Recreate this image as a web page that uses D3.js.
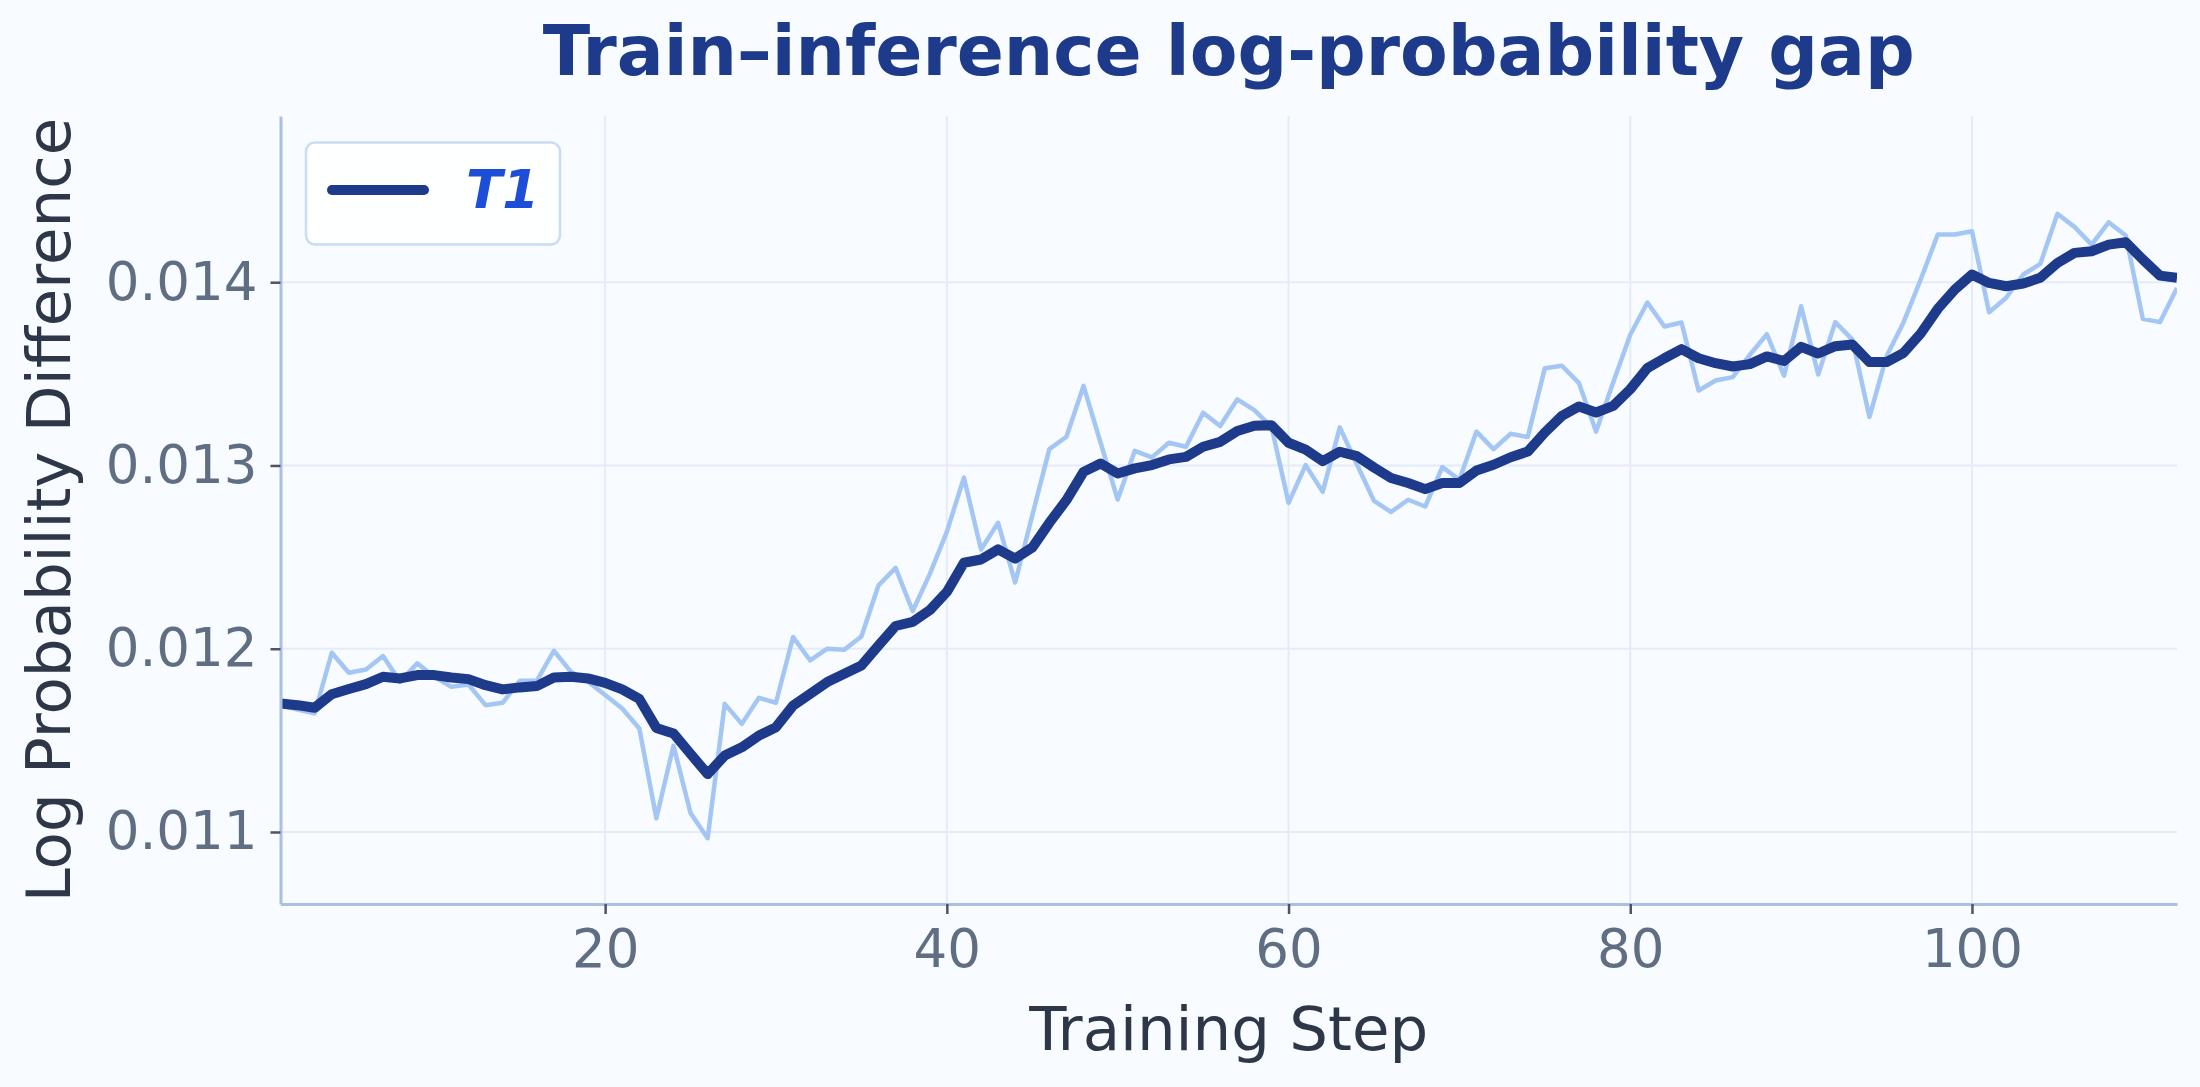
<!DOCTYPE html>
<html>
<head>
<meta charset="utf-8">
<script src="https://cdn.jsdelivr.net/npm/d3@7"></script>
<style>
  body { margin: 0; background: #f8fbff; }
  svg { display: block; font-family: "DejaVu Sans", sans-serif; }
</style>
</head>
<body>
<script>
// values
const steps = d3.range(1, 113);

const rawGap = [
  0.011692, 0.011668, 0.011647, 0.011978, 0.011869, 0.011887, 0.011960, 0.011820, 0.011920, 0.011847,
  0.011792, 0.011805, 0.011692, 0.011705, 0.011825, 0.011825, 0.011989, 0.011874, 0.011820, 0.011747,
  0.011674, 0.011565, 0.011075, 0.011471, 0.011103, 0.010966, 0.011699, 0.011590, 0.011732, 0.011705,
  0.012064, 0.011936, 0.012000, 0.011995, 0.012067, 0.012346, 0.012441, 0.012206, 0.012407, 0.012638,
  0.012934, 0.012541, 0.012687, 0.012361, 0.012727, 0.013089, 0.013157, 0.013434, 0.013124, 0.012814,
  0.013080, 0.013044, 0.013124, 0.013102, 0.013288, 0.013215, 0.013361, 0.013302, 0.013211, 0.012796,
  0.013002, 0.012856, 0.013208, 0.013007, 0.012807, 0.012746, 0.012813, 0.012776, 0.012991, 0.012922,
  0.013185, 0.013089, 0.013173, 0.013155, 0.013531, 0.013544, 0.013449, 0.013185, 0.013453, 0.013713,
  0.013889, 0.013758, 0.013780, 0.013409, 0.013464, 0.013482, 0.013604, 0.013716, 0.013490, 0.013869,
  0.013496, 0.013782, 0.013687, 0.013265, 0.013596, 0.013782, 0.014015, 0.014260, 0.014260, 0.014278,
  0.013836, 0.013915, 0.014042, 0.014100, 0.014373, 0.014302, 0.014205, 0.014327, 0.014255, 0.013800,
  0.013782, 0.013969
];

const smoothGap = [
  0.011701, 0.011692, 0.011678, 0.011752, 0.011780, 0.011807, 0.011847, 0.011838, 0.011856, 0.011856,
  0.011843, 0.011834, 0.011801, 0.011778, 0.011789, 0.011796, 0.011843, 0.011847, 0.011838, 0.011814,
  0.011778, 0.011726, 0.011568, 0.011538, 0.011426, 0.011316, 0.011417, 0.011462, 0.011526, 0.011572,
  0.011690, 0.011754, 0.011818, 0.011863, 0.011909, 0.012018, 0.012124, 0.012146, 0.012210, 0.012310,
  0.012469, 0.012487, 0.012542, 0.012492, 0.012552, 0.012687, 0.012811, 0.012965, 0.013011, 0.012956,
  0.012984, 0.013002, 0.013033, 0.013047, 0.013102, 0.013129, 0.013188, 0.013217, 0.013220, 0.013124,
  0.013087, 0.013024, 0.013075, 0.013051, 0.012989, 0.012932, 0.012904, 0.012871, 0.012904, 0.012904,
  0.012973, 0.013004, 0.013045, 0.013076, 0.013180, 0.013271, 0.013322, 0.013289, 0.013325, 0.013416,
  0.013531, 0.013585, 0.013635, 0.013585, 0.013558, 0.013540, 0.013553, 0.013595, 0.013570, 0.013647,
  0.013611, 0.013651, 0.013660, 0.013564, 0.013564, 0.013615, 0.013720, 0.013855, 0.013960, 0.014042,
  0.013996, 0.013978, 0.013993, 0.014024, 0.014105, 0.014160, 0.014169, 0.014205, 0.014218, 0.014124,
  0.014036, 0.014024
];

const xTicks = [20, 40, 60, 80, 100];
const yTicks = [0.011, 0.012, 0.013, 0.014];
const seriesName = "T1";

const W = 2200, H = 1087;
const plotLeft = 280.5, plotRight = 2177, plotTop = 116, plotBottom = 904;

const svg = d3.select('body').append('svg')
  .attr('width', W)
  .attr('height', H);

svg.append('rect').attr('width', W).attr('height', H).attr('fill', '#f8fbff');

const x = d3.scaleLinear().domain([1, 112]).range([plotLeft, plotRight]);
const y = d3.scaleLinear().domain([0.010607, 0.014907]).range([plotBottom, plotTop]);

// grid
svg.append('g').selectAll('line').data(xTicks).join('line')
  .attr('x1', d => x(d)).attr('x2', d => x(d))
  .attr('y1', plotTop).attr('y2', plotBottom)
  .attr('stroke', '#e3ecf8').attr('stroke-width', 2);
svg.append('g').selectAll('line').data(yTicks).join('line')
  .attr('x1', plotLeft).attr('x2', plotRight)
  .attr('y1', d => y(d)).attr('y2', d => y(d))
  .attr('stroke', '#e3ecf8').attr('stroke-width', 2);

svg.append('clipPath').attr('id', 'plot')
  .append('rect').attr('x', plotLeft).attr('y', plotTop)
  .attr('width', plotRight - plotLeft).attr('height', plotBottom - plotTop);

const line = d3.line().x(d => x(d[0])).y(d => y(d[1]));

svg.append('path')
  .datum(steps.map((s, i) => [s, rawGap[i]]))
  .attr('d', line)
  .attr('clip-path', 'url(#plot)')
  .attr('fill', 'none')
  .attr('stroke', '#a4c6f4')
  .attr('stroke-width', 4.5)
  .attr('stroke-linejoin', 'round');

svg.append('path')
  .datum(steps.map((s, i) => [s, smoothGap[i]]))
  .attr('d', line)
  .attr('clip-path', 'url(#plot)')
  .attr('fill', 'none')
  .attr('stroke', '#1e3a8a')
  .attr('stroke-width', 10)
  .attr('stroke-linejoin', 'round');

// axes
const xAxis = svg.append('g')
  .attr('transform', 'translate(0,' + plotBottom + ')')
  .call(d3.axisBottom(x).tickValues(xTicks).tickSize(10).tickSizeOuter(0).tickPadding(15));
const yAxis = svg.append('g')
  .attr('transform', 'translate(' + plotLeft + ',0)')
  .call(d3.axisLeft(y).tickValues(yTicks).tickFormat(d3.format('.3f')).tickSize(10).tickSizeOuter(0).tickPadding(13));

[xAxis, yAxis].forEach(g => {
  g.attr('font-family', '"DejaVu Sans", sans-serif').attr('font-size', 53);
  g.select('.domain').attr('stroke', '#a9c0e2').attr('stroke-width', 3);
  g.selectAll('.tick line').attr('stroke', '#4a5568').attr('stroke-width', 2.5);
  g.selectAll('.tick text').attr('fill', '#5f6e82');
});

// title and labels
svg.append('text')
  .attr('x', (plotLeft + plotRight) / 2).attr('y', 75)
  .attr('text-anchor', 'middle')
  .attr('font-size', 69.5).attr('font-weight', 'bold')
  .attr('fill', '#1e3a8a')
  .text('Train–inference log-probability gap');

svg.append('text')
  .attr('x', (plotLeft + plotRight) / 2).attr('y', 1050)
  .attr('text-anchor', 'middle')
  .attr('font-size', 61)
  .attr('fill', '#2d3748')
  .text('Training Step');

svg.append('text')
  .attr('transform', 'translate(70,' + ((plotTop + plotBottom) / 2) + ') rotate(-90)')
  .attr('text-anchor', 'middle')
  .attr('font-size', 61)
  .attr('fill', '#2d3748')
  .text('Log Probability Difference');

// legend
const legend = svg.append('g');
legend.append('rect')
  .attr('x', 306).attr('y', 142.5).attr('width', 254).attr('height', 102).attr('rx', 9)
  .attr('fill', '#ffffff').attr('fill-opacity', 0.85)
  .attr('stroke', '#cadcf2').attr('stroke-width', 2.5);
legend.append('line')
  .attr('x1', 332).attr('x2', 424).attr('y1', 190).attr('y2', 190)
  .attr('stroke', '#1e3a8a').attr('stroke-width', 10).attr('stroke-linecap', 'round');
legend.append('text')
  .attr('x', 466).attr('y', 208)
  .attr('font-size', 53).attr('font-weight', 'bold').attr('font-style', 'italic')
  .attr('fill', '#1d4ed8')
  .text(seriesName);
</script>
</body>
</html>
